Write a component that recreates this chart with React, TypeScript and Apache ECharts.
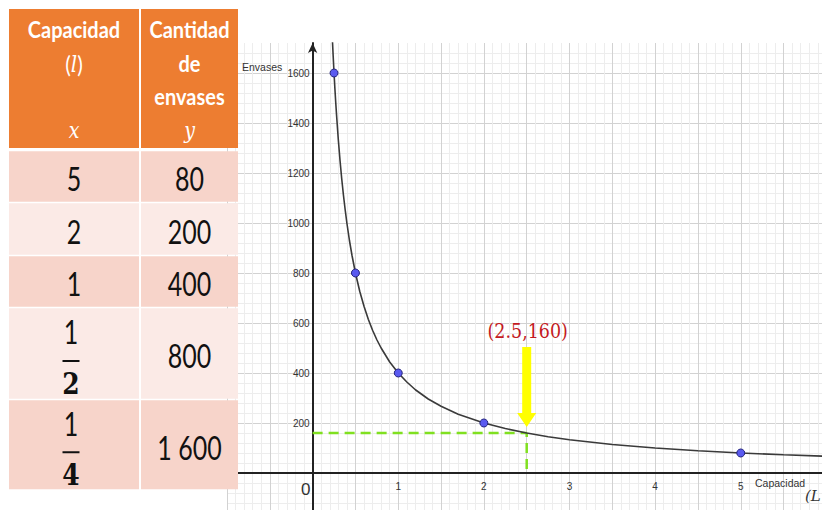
import React, { useEffect, useRef } from "react";
import * as echarts from "echarts";

// ---- data ----
const capacities = [5, 2, 1, 0.5, 0.25];
const containers = [80, 200, 400, 800, 1600];
const capacityText = ["5", "2", "1", "1/2", "1/4"];
const containerText = ["80", "200", "400", "800", "1 600"];
const curveX = [0.22, 0.23, 0.24, 0.25, 0.26, 0.27, 0.28, 0.3, 0.32, 0.34, 0.36, 0.38, 0.4, 0.43, 0.46, 0.5, 0.55, 0.6, 0.65, 0.7, 0.75, 0.8, 0.9, 1, 1.1, 1.2, 1.35, 1.5, 1.7, 2, 2.25, 2.5, 2.75, 3, 3.5, 4, 4.5, 5, 5.5, 6];
const curveY = [1818, 1739, 1667, 1600, 1538, 1481, 1429, 1333, 1250, 1176, 1111, 1053, 1000, 930, 870, 800, 727, 667, 615, 571, 533, 500, 444, 400, 364, 333, 296, 267, 235, 200, 178, 160, 145, 133, 114, 100, 89, 80, 73, 67];
const highlight = [2.5, 160];
const xTickLabels = [1, 2, 3, 4, 5];
const yTickLabels = [200, 400, 600, 800, 1000, 1200, 1400, 1600];
const headerCol1 = ["Capacidad", "(l)", "", "x"];
const headerCol2 = ["Cantidad", "de", "envases", "y"];
const axisNames = ["Envases", "Capacidad", "(L"];

// ---- layout (not data) ----
const T_LEFT = 9;
const T_SPLIT = 140;
const T_RIGHT = 238;
const H_TOP = 9;
const H_BOTTOM = 148;
const rowEdges = [150.5, 202.5, 255.5, 307.5, 399.5, 490];
const headerLineY = [30, 64, 97, 131];
const col1C = (T_LEFT + T_SPLIT - 1) / 2;
const col2C = (T_SPLIT + 1 + T_RIGHT) / 2;

const G_LEFT = 227;
const G_TOP = 43;
const G_WIDTH = 599.4;
const G_HEIGHT = 480;
const X_MIN = -1;
const X_MAX = 6;
const Y_MIN = -200;
const Y_MAX = 1720;

const ORANGE = "#ED7D31";
const ROW_DARK = "#F7D4CA";
const ROW_LIGHT = "#FBEAE6";
const BODY_FONT = "Lato, 'Open Sans', sans-serif";
const MATH_FONT = "'DejaVu Serif', 'Liberation Serif', serif";
const SANS = "'Liberation Sans', Arial, sans-serif";

function txt(x: number, y: number, text: string, style: any, scaleY = 1): any {
  return {
    type: "text",
    x,
    y,
    z: 100,
    scaleY,
    style: { text, align: "center", verticalAlign: "middle", ...style },
  };
}

function buildTable(): any[] {
  const els: any[] = [];
  els.push({ type: "rect", z: 99, shape: { x: T_LEFT, y: H_TOP, width: T_SPLIT - 1 - T_LEFT, height: H_BOTTOM - H_TOP }, style: { fill: ORANGE } });
  els.push({ type: "rect", z: 99, shape: { x: T_SPLIT + 1, y: H_TOP, width: T_RIGHT - T_SPLIT - 1, height: H_BOTTOM - H_TOP }, style: { fill: ORANGE } });

  const headStyle = { fill: "#ffffff", fontFamily: BODY_FONT, fontWeight: "bold", fontSize: 20 };
  const varStyle = { fill: "#ffffff", fontFamily: MATH_FONT, fontStyle: "italic", fontSize: 19 };
  headerCol1.forEach((t, i) => {
    if (!t) return;
    if (i === 3) els.push(txt(col1C, headerLineY[i], t, varStyle, 1.15));
    else if (t === "(l)") {
      els.push({
        type: "text", x: col1C, y: headerLineY[i], z: 100, scaleY: 1.1,
        style: {
          text: "{a|(}{b|l}{a|)}", align: "center", verticalAlign: "middle",
          rich: {
            a: { fill: "#fff", fontFamily: BODY_FONT, fontSize: 21 },
            b: { fill: "#fff", fontFamily: MATH_FONT, fontStyle: "italic", fontSize: 20 },
          },
        },
      });
    } else els.push(txt(col1C, headerLineY[i], t, headStyle, 1.12));
  });
  headerCol2.forEach((t, i) => {
    if (!t) return;
    if (i === 3) els.push(txt(col2C, headerLineY[i], t, varStyle, 1.15));
    else els.push(txt(col2C, headerLineY[i], t, headStyle, 1.12));
  });

  const numStyle = { fill: "#111", fontFamily: BODY_FONT, fontSize: 25 };
  const denStyle = { fill: "#111", fontFamily: MATH_FONT, fontWeight: "bold", fontSize: 25 };
  for (let i = 0; i < capacityText.length; i++) {
    const top = rowEdges[i] + 0.75;
    const h = rowEdges[i + 1] - rowEdges[i] - 1.5;
    const fill = i % 2 === 0 ? ROW_DARK : ROW_LIGHT;
    els.push({ type: "rect", z: 99, shape: { x: T_LEFT, y: top, width: T_SPLIT - 1 - T_LEFT, height: h }, style: { fill } });
    els.push({ type: "rect", z: 99, shape: { x: T_SPLIT + 1, y: top, width: T_RIGHT - T_SPLIT - 1, height: h }, style: { fill } });
    const c = (rowEdges[i] + rowEdges[i + 1]) / 2;
    const ct = capacityText[i];
    if (ct.includes("/")) {
      const [num, den] = ct.split("/");
      els.push(txt(col1C - 3, c - 22, num, numStyle, 1.3));
      els.push({ type: "rect", z: 100, shape: { x: col1C - 11.5, y: c + 6.5, width: 17, height: 2 }, style: { fill: "#111" } });
      els.push(txt(col1C - 3, c + 30, den, denStyle, 1.2));
    } else {
      els.push(txt(col1C, c + 2, ct, numStyle, 1.3));
    }
    els.push(txt(col2C, c + 2, containerText[i], numStyle, 1.3));
  }
  return els;
}

const axisTextStyle = { fill: "#333", fontFamily: SANS, fontSize: 10.5 };

// offsets that move each axis (line + labels) onto the other axis' zero
const xAxisOffset = -(G_HEIGHT * (0 - Y_MIN)) / (Y_MAX - Y_MIN);
const yAxisOffset = -(G_WIDTH * (0 - X_MIN)) / (X_MAX - X_MIN);

const option: any = {
  animation: false,
  backgroundColor: "#ffffff",
  grid: { left: G_LEFT, top: G_TOP, width: G_WIDTH, height: G_HEIGHT, containLabel: false, outerBoundsMode: "none" },
  xAxis: {
    type: "value",
    min: X_MIN,
    max: X_MAX,
    interval: 0.5,
    position: "bottom",
    offset: xAxisOffset,
    axisLine: { onZero: false, lineStyle: { color: "#222", width: 2 } },
    axisTick: { show: false },
    axisLabel: {
      margin: 8,
      fontSize: 10,
      color: "#333",
      fontFamily: SANS,
      hideOverlap: false,
      formatter: (v: number) => {
        if (v === 0) return "{z|0}";
        return xTickLabels.includes(v) ? String(v) : "";
      },
      rich: { z: { fontSize: 17, color: "#333", fontFamily: SANS, padding: [0, 14, 0, 0] } },
    },
    splitLine: { show: true, showMaxLine: false, lineStyle: { color: "#d2d2d2", width: 1 } },
    minorTick: { show: false, splitNumber: 5 },
    minorSplitLine: { show: true, lineStyle: { color: "#ededed", width: 1 } },
  },
  yAxis: {
    type: "value",
    min: Y_MIN,
    max: Y_MAX,
    interval: 200,
    position: "left",
    offset: yAxisOffset,
    axisLine: { onZero: false, symbol: ["none", "arrow"], symbolSize: [7, 10], lineStyle: { color: "#222", width: 2 } },
    axisTick: { show: false },
    axisLabel: {
      margin: 3,
      fontSize: 10,
      color: "#333",
      fontFamily: SANS,
      hideOverlap: false,
      formatter: (v: number) => (yTickLabels.includes(v) ? String(v) : ""),
    },
    splitLine: { show: true, showMaxLine: false, lineStyle: { color: "#d2d2d2", width: 1 } },
    minorTick: { show: false, splitNumber: 5 },
    minorSplitLine: { show: true, lineStyle: { color: "#ededed", width: 1 } },
  },
  series: [
    {
      type: "line",
      name: "guide",
      data: [[0, highlight[1]], [highlight[0], highlight[1]], [highlight[0], 0]],
      symbol: "none",
      lineStyle: { color: "#80e020", width: 2.5, type: [10, 6] },
      z: 3,
      silent: true,
    },
    {
      type: "line",
      name: "curve",
      data: curveX.map((x, i) => [x, curveY[i]]),
      symbol: "none",
      smooth: false,
      lineStyle: { color: "#3a3a3a", width: 1.6 },
      z: 4,
      silent: true,
    },
    {
      type: "scatter",
      name: "points",
      data: capacities.map((x, i) => [x, containers[i]]),
      symbolSize: 8,
      itemStyle: { color: "#5a5af0", borderColor: "#262680", borderWidth: 1, opacity: 1 },
      z: 5,
    },
    {
      type: "custom",
      name: "arrow",
      data: [highlight],
      z: 6,
      renderItem: (params: any, api: any) => {
        const x = api.value(0);
        const y = api.value(1);
        const p = api.coord([x, y]);
        return {
          type: "group",
          children: [
            {
              type: "polygon",
              shape: {
                points: [
                  [p[0] - 4.5, p[1] - 86],
                  [p[0] + 4.5, p[1] - 86],
                  [p[0] + 4.5, p[1] - 20],
                  [p[0] + 9.5, p[1] - 20],
                  [p[0], p[1] - 6],
                  [p[0] - 9.5, p[1] - 20],
                  [p[0] - 4.5, p[1] - 20],
                ],
              },
              style: { fill: "#ffff00" },
            },
            {
              type: "text",
              x: p[0] + 1,
              y: p[1] - 102,
              scaleY: 1.15,
              style: {
                text: `(${x},${y})`,
                align: "center",
                verticalAlign: "middle",
                fill: "#c41a22",
                fontFamily: MATH_FONT,
                fontSize: 17.5,
              },
            },
          ],
        };
      },
    },
  ],
  graphic: {
    elements: [
      ...buildTable(),
      { type: "text", x: 242, y: 67, z: 100, style: { text: axisNames[0], align: "left", verticalAlign: "middle", ...axisTextStyle } },
      { type: "text", x: 755, y: 483, z: 100, style: { text: axisNames[1], align: "left", verticalAlign: "middle", ...axisTextStyle } },
      { type: "text", x: 805, y: 496, z: 100, style: { text: axisNames[2], align: "left", verticalAlign: "middle", fill: "#333", fontFamily: MATH_FONT, fontStyle: "italic", fontSize: 15 } },
    ],
  },
};

export default function App() {
  const ref = useRef<HTMLDivElement>(null);
  useEffect(() => {
    const chart = echarts.init(ref.current!, null, { renderer: "svg" });
    chart.setOption(option);
    return () => chart.dispose();
  }, []);
  return (
    <div
      ref={ref}
      style={{ position: "fixed", left: 0, top: 0, width: 822, height: 510, background: "#fff" }}
    />
  );
}
